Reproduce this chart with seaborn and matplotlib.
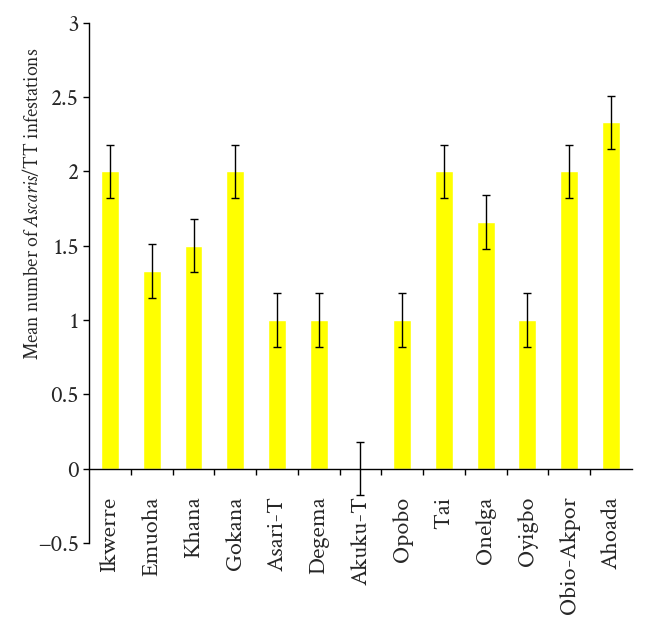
import numpy as np
import pandas as pd
import seaborn as sns
import matplotlib.pyplot as plt
from matplotlib.ticker import FixedLocator

# data
regions = ["Ikwerre", "Emuoha", "Khana", "Gokana", "Asari-T", "Degema", "Akuku-T",
           "Opobo", "Tai", "Onelga", "Oyigbo", "Obio-Akpor", "Ahoada"]
means = [2.0, 1.33, 1.5, 2.0, 1.0, 1.0, 0.0, 1.0, 2.0, 1.66, 1.0, 2.0, 2.33]
errors = [0.18, 0.18, 0.18, 0.18, 0.18, 0.18, 0.18, 0.18, 0.18, 0.18, 0.18, 0.18, 0.18]

df = pd.DataFrame({"region": regions, "mean": means, "err": errors})

sns.set_style("white")
plt.rcParams["font.family"] = ["Crimson Text", "Liberation Serif", "DejaVu Serif"]
plt.rcParams["mathtext.fontset"] = "custom"
plt.rcParams["mathtext.rm"] = "Crimson Text"
plt.rcParams["mathtext.it"] = "Crimson Text:italic"

fig = plt.figure(figsize=(6.46, 6.17), dpi=100)
ax = fig.add_axes([0.138, 0.12, 0.84, 0.843])

sns.barplot(data=df, x="region", y="mean", color="#FFFF00", saturation=1,
            width=0.43, ax=ax, errorbar=None)

# error bars centred on the drawn bars
centers = [p.get_x() + p.get_width() / 2 for p in ax.patches]
ax.errorbar(centers, df["mean"], yerr=df["err"], fmt="none", ecolor="black",
            elinewidth=1, capsize=3, capthick=1)

ax.set_ylim(-0.5, 3)
ax.set_xlim(-0.5, len(regions) - 0.5)
ax.set_yticks(np.arange(-0.5, 3.01, 0.5))
ax.set_yticklabels(["\u22120.5", "0", "0.5", "1", "1.5", "2", "2.5", "3"])

ax.spines["top"].set_visible(False)
ax.spines["right"].set_visible(False)
ax.spines["bottom"].set_position(("data", 0))
for s in ["left", "bottom"]:
    ax.spines[s].set_color("black")
    ax.spines[s].set_linewidth(1)

ax.xaxis.set_minor_locator(FixedLocator(np.arange(0.5, len(regions) - 0.5, 1)))
ax.tick_params(axis="x", which="major", length=0, pad=20, labelsize=17.5,
               labelrotation=90)
ax.tick_params(axis="x", which="minor", length=4, width=1, direction="out",
               color="black", bottom=True)
ax.tick_params(axis="y", length=4, width=1, direction="out", color="black",
               left=True, labelsize=17)
for lab in ax.get_xticklabels():
    lab.set_va("top")

ax.set_xlabel("")
ax.set_ylabel(r"Mean number of $\mathit{Ascaris}$/TT infestations", fontsize=14.1)
ax.yaxis.set_label_coords(-0.085, 0.653)

plt.savefig("out.png", dpi=100)
